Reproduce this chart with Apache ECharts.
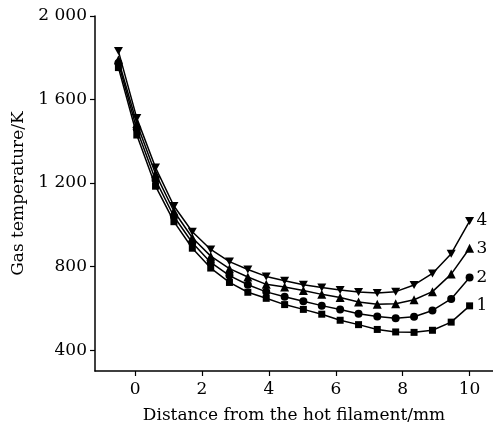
<!DOCTYPE html>
<html>
<head>
<meta charset="utf-8">
<script src="https://cdn.jsdelivr.net/npm/echarts@6/dist/echarts.min.js"></script>
<style>
  html, body { margin: 0; padding: 0; background: #fff; }
  #main { width: 493px; height: 429px; }
</style>
</head>
<body>
<div id="main"></div>
<script>
// distance from the hot filament (mm)
var distance = [-0.5, 0.05, 0.61, 1.16, 1.71, 2.26, 2.82, 3.37, 3.92, 4.47,
                5.03, 5.58, 6.13, 6.68, 7.24, 7.79, 8.34, 8.89, 9.45, 10.0];
// gas temperature (K), curves 1..4
var temp1 = [1753, 1430, 1185, 1015, 888, 793, 724, 677, 648, 618,
             595, 572, 543, 522, 499, 487, 485, 495, 534, 612];
var temp2 = [1775, 1458, 1215, 1040, 914, 820, 757, 713, 679, 656,
             634, 613, 594, 574, 561, 553, 560, 590, 645, 748];
var temp3 = [1790, 1485, 1245, 1065, 938, 850, 790, 750, 715, 702,
             686, 667, 652, 630, 620, 622, 641, 680, 764, 888];
var temp4 = [1832, 1511, 1274, 1090, 967, 882, 824, 786, 753, 732,
             713, 700, 688, 678, 673, 680, 712, 767, 862, 1018];
var curveNames = ['1', '2', '3', '4'];
var xTicks = [0, 2, 4, 6, 8, 10];
var yTicks = [400, 800, 1200, 1600, 2000];

var font = 'DejaVu Serif';
var downTri = 'path://M0,0 L10,0 L5,9 Z';

function pairs(ys) {
  return ys.map(function (y, i) { return [distance[i], y]; });
}

function makeSeries(name, ys, symbol, size) {
  return {
    name: name,
    type: 'line',
    data: pairs(ys),
    symbol: symbol,
    symbolSize: size,
    showAllSymbol: true,
    lineStyle: { color: '#000', width: 1.5 },
    itemStyle: { color: '#000' },
    endLabel: {
      show: true,
      formatter: name,
      color: '#000',
      fontFamily: font,
      fontSize: 17,
      distance: 7
    }
  };
}

var myChart = echarts.init(document.getElementById('main'));
myChart.setOption({
  animation: false,
  grid: { left: 95, right: 0, top: 16, bottom: 53 },
  xAxis: {
    type: 'value',
    min: -1.2,
    max: 10.7,
    name: 'Distance from the hot filament/mm',
    nameLocation: 'middle',
    nameGap: 36,
    nameTextStyle: { color: '#000', fontFamily: font, fontSize: 17 },
    splitLine: { show: false },
    axisLine: { onZero: false, lineStyle: { color: '#000', width: 1.5 } },
    axisTick: { show: true, inside: false, length: 5, customValues: xTicks, lineStyle: { color: '#000', width: 1.2 } },
    axisLabel: { customValues: xTicks, margin: 10, color: '#000', fontFamily: font, fontSize: 17 }
  },
  yAxis: {
    type: 'value',
    min: 300,
    max: 2000,
    name: 'Gas temperature/K',
    nameLocation: 'middle',
    nameGap: 56,
    nameTextStyle: { color: '#000', fontFamily: font, fontSize: 17 },
    splitLine: { show: false },
    axisLine: { show: true, onZero: false, lineStyle: { color: '#000', width: 1.5 } },
    axisTick: { show: true, inside: false, length: 5, customValues: yTicks, lineStyle: { color: '#000', width: 1.2 } },
    axisLabel: {
      customValues: yTicks,
      margin: 8,
      color: '#000',
      fontFamily: font,
      fontSize: 17,
      formatter: function (v) {
        return v >= 1000 ? Math.floor(v / 1000) + ' ' + String(v % 1000).padStart(3, '0') : String(v);
      }
    }
  },
  series: [
    makeSeries(curveNames[0], temp1, 'rect', 7),
    makeSeries(curveNames[1], temp2, 'circle', 8),
    makeSeries(curveNames[2], temp3, 'triangle', 9),
    makeSeries(curveNames[3], temp4, downTri, [9, 8])
  ]
});
</script>
</body>
</html>
